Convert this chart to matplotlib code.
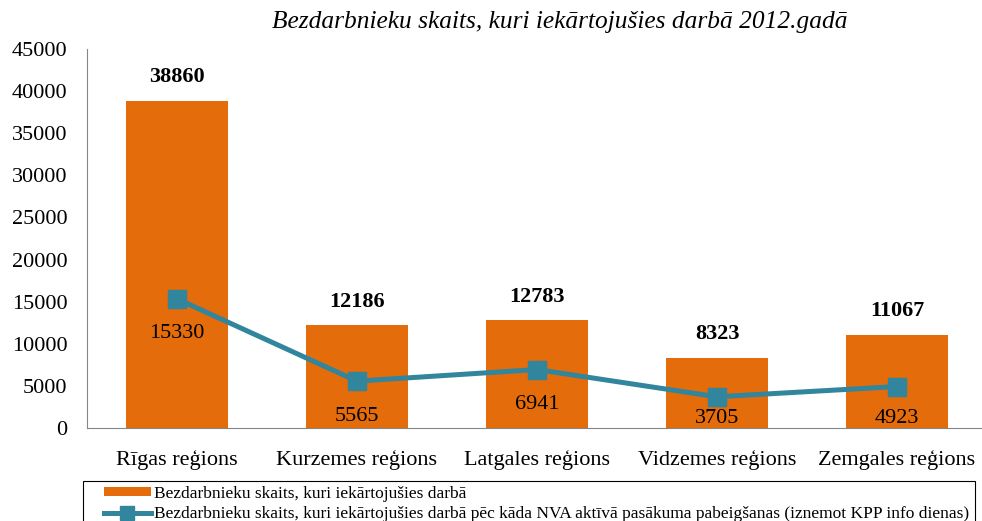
import matplotlib.pyplot as plt
from matplotlib.patches import Rectangle
import numpy as np

regions = ["Rīgas reģions", "Kurzemes reģions", "Latgales reģions",
           "Vidzemes reģions", "Zemgales reģions"]
employed = [38860, 12186, 12783, 8323, 11067]
employed_nva = [15330, 5565, 6941, 3705, 4923]
yticks = np.arange(0, 45001, 5000)

plt.rcParams['font.family'] = ['Liberation Serif', 'DejaVu Serif']

fig = plt.figure(figsize=(9.82, 5.21), dpi=100)
ax = fig.add_axes([87/982, 1 - 428/521, 900/982, 379/521])

x = np.arange(len(regions))
bars = ax.bar(x, employed, width=0.567, color="#E46C0A",
              label="Bezdarbnieku skaits, kuri iekārtojušies darbā")
line, = ax.plot(x, employed_nva, "-s", color="#31859C", lw=3.6, ms=13,
                label="Bezdarbnieku skaits, kuri iekārtojušies darbā pēc kāda NVA aktīvā pasākuma pabeigšanas (iznemot KPP info dienas)")

ax.set_xlim(-0.5, len(regions) - 0.5)
ax.set_ylim(0, 45000)

for xi, v in zip(x, employed):
    ax.annotate(str(v), (xi, v), xytext=(0, 13.5), textcoords="offset points",
                ha="center", va="baseline", fontsize=16, fontweight="bold")

# labels below the markers, kept inside the plot area like Excel does
px = 45000 / 379.0
for xi, v in zip(x, employed_nva):
    ly = max(v - 35 * px, 9.5 * px)
    ax.text(xi, ly, str(v), ha="center", va="center", fontsize=16)

ax.set_yticks(yticks)
ax.set_xticks(x)
ax.set_xticklabels(regions)
ax.tick_params(axis="y", length=0, pad=14, labelsize=16)
ax.tick_params(axis="x", length=0, pad=16, labelsize=16)
for s in ["top", "right"]:
    ax.spines[s].set_visible(False)
ax.spines["left"].set_color("#868686")
ax.spines["bottom"].set_color("#868686")

fig.text(560/982, 1 - 22/521, "Bezdarbnieku skaits, kuri iekārtojušies darbā 2012.gadā",
         ha="center", va="center", fontsize=18.3, style="italic")

# legend frame, cut off at the bottom of the picture
fig.add_artist(Rectangle((83/982, -0.1), 892/982, 0.1 + (521 - 481)/521,
                         transform=fig.transFigure, fill=False,
                         edgecolor="black", lw=0.8))
leg = fig.legend(handles=[bars, line], loc="upper left",
                 bbox_to_anchor=(104/982, 1 - 486/521),
                 borderaxespad=0, borderpad=0, fontsize=12.5, handlelength=2.7,
                 handleheight=0.4, handletextpad=0.2, labelspacing=0.22,
                 frameon=False)
leg.legend_handles[1].set_markersize(10)

plt.savefig("out.png", dpi=100)
